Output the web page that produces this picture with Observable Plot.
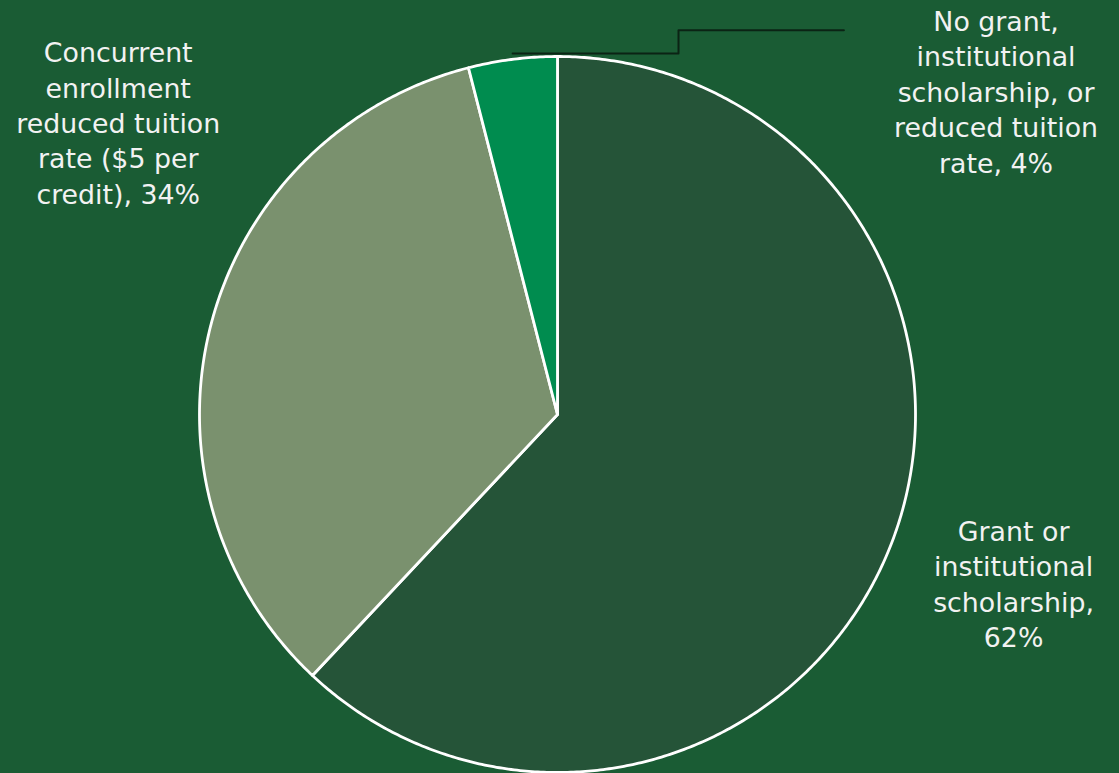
<!DOCTYPE html>
<html>
<head>
<meta charset="utf-8">
<script src="https://cdn.jsdelivr.net/npm/d3@7"></script>
<script src="https://cdn.jsdelivr.net/npm/@observablehq/plot@0.6"></script>
<style>
  html, body { margin: 0; padding: 0; background: #1a5c34; }
  #chart svg { display: block; }
</style>
</head>
<body>
<div id="chart"></div>
<script>
// ---- Data ----
const categories = [
  "Grant or institutional scholarship",
  "Concurrent enrollment reduced tuition rate ($5 per credit)",
  "No grant, institutional scholarship, or reduced tuition rate"
];
const shares = [62, 34, 4];
const labelLines = [
  "Grant or\ninstitutional\nscholarship,\n62%",
  "Concurrent\nenrollment\nreduced tuition\nrate ($5 per\ncredit), 34%",
  "No grant,\ninstitutional\nscholarship, or\nreduced tuition\nrate, 4%"
];

// ---- Styles / layout ----
const colors = ["#255438", "#7a916e", "#008c4f"];
const background = "#1a5c34";
// label anchors (in radius units relative to pie center) – layout, not data
const labelAnchor = [[1.274, -0.47], [-1.227, 0.818], [1.225, 0.905]];

// ---- Geometry from data ----
const pie = d3.pie().sort(null).value(d => d)(shares);
const slices = pie.map((p, i) => {
  const pts = [{x: 0, y: 0}];
  const n = Math.max(8, Math.ceil((p.endAngle - p.startAngle) * 120));
  for (let k = 0; k <= n; k++) {
    const a = p.startAngle + (p.endAngle - p.startAngle) * k / n;
    pts.push({x: Math.sin(a), y: Math.cos(a)});
  }
  return {cat: categories[i], pts};
});

const labels = categories.map((c, i) => ({
  x: labelAnchor[i][0], y: labelAnchor[i][1], text: labelLines[i]
}));

// leader line for the small slice: from slice edge mid-angle out to label
const small = pie[2];
const mid = (small.startAngle + small.endAngle) / 2;
const lx0 = Math.sin(mid), ly0 = Math.cos(mid) + 0.016;
const leader = [
  {x: lx0, y: ly0},
  {x: 0.338, y: ly0},
  {x: 0.338, y: 1.073},
  {x: 0.80, y: 1.073}
];

const chart = Plot.plot({
  width: 1119,
  height: 773,
  margin: 0,
  style: {background: background, fontFamily: "'DejaVu Sans', sans-serif"},
  x: {domain: [-1, 1], range: [199, 915], axis: null},
  y: {domain: [-1, 1], range: [772, 56], axis: null},
  marks: [
    ...slices.map((s, i) => Plot.line(s.pts, {
      x: "x", y: "y", curve: "linear-closed",
      fill: colors[i], stroke: "white", strokeWidth: 2.8, strokeLinejoin: "round"
    })),
    Plot.line(leader, {x: "x", y: "y", stroke: "#0b2314", strokeWidth: 2}),
    Plot.text(labels, {
      x: "x", y: "y", text: "text",
      fill: "#f2f2f2", fontSize: 26.8, lineHeight: 1.32,
      textAnchor: "middle", lineAnchor: "middle"
    })
  ]
});
document.getElementById("chart").appendChild(chart);
</script>
</body>
</html>
